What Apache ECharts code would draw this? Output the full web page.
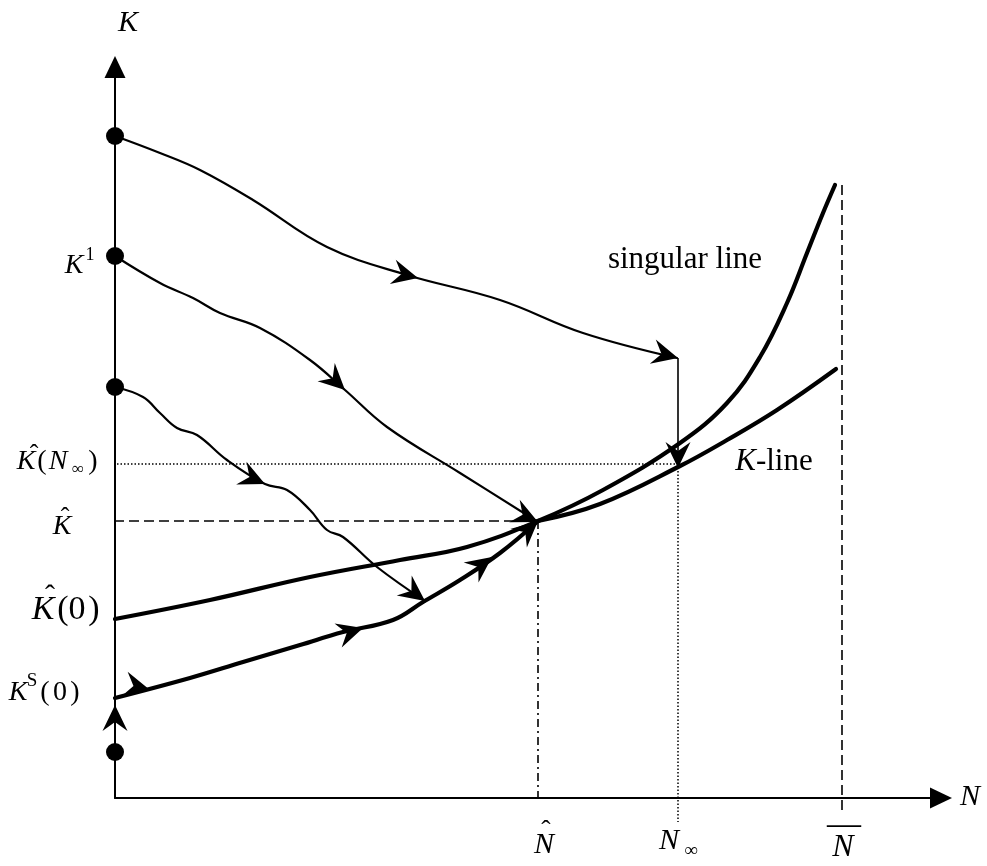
<!DOCTYPE html>
<html><head><meta charset="utf-8">
<script src="https://cdn.jsdelivr.net/npm/echarts/dist/echarts.min.js"></script>
<style>html,body{margin:0;padding:0;background:#fff}#c{width:987px;height:866px}</style>
</head><body><div id="c"></div>
<script>
// Conceptual phase diagram, coordinates in diagram units (N, K)
const singularLine = [[0,179],[95,198],[195,221],[285,238],[352,251],[423,277],[488,308],[565,355],[612,395],[645,441],[672,495],[692,545],[708,585],[720,613]];
const kLine = [[423,277],[485,294],[565,332],[612,358],[662,388],[721,429]];
const saddlePath = [[0,100],[75,120],[128,136],[185,153],[228,166],[278,178],[308,196],[345,218],[385,245],[423,277]];
const pathA = [[0,662],[45,645],[85,628],[138,598],[212,551],[292,523],[385,498],[468,465],[562,440]];
const pathADrop = [[563,440],[563,330]];
const pathB = [[0,542],[45,515],[78,500],[105,485],[145,470],[195,438],[230,408],[272,371],[345,325],[423,276]];
const pathC = [[0,411],[28,401],[45,385],[62,370],[82,363],[112,338],[150,314],[172,308],[195,288],[212,268],[228,261],[262,231],[310,197]];
const startDots = [[0,662],[0,542],[0,411],[0,46]];
// arrow heads: [tipN, tipK, fromN, fromK]
const arrowHeads = [[303,520,230,538],[563,440,519,451],[563,330,563,380],[230,408,190,446],[423,276,393,290],[150,314,128,324],[310,197,282,218],[35,108,10,114],[248,170,208,158],[377,241,354,224],[423,277,405,261],[0,93,0,60]];
const kHatNinf = 334, kHat = 277, nHat = 423, nInf = 563, nBar = 727;
const nMax = 826, kMax = 731;
// labels: [text, N, K, fontSize, italic]
const labels = [
  ['K',13,775,30,1],['N',855,1,30,1],
  ['K',-41,532,28,1],['1',-25,543,18,0],
  ['K',-89,336,28,1],['ˆ',-81,343,26,0],['(',-73,336,28,0],['N',-57,336,28,1],['∞',-37,328,17,0],[')',-22,336,28,0],
  ['K',-53,271,28,1],['ˆ',-50,280,26,0],
  ['K',-72,188,34,1],['ˆ',-65,201,30,0],['(',-52,188,34,0],['0',-38,188,34,0],[')',-21,188,34,0],
  ['K',-97,105,28,1],['S',-83,117,19,0],['(',-70,105,28,0],['0',-55,105,28,0],[')',-40,105,28,0],
  ['N',429,-47,30,1],['ˆ',431,-34,28,0],
  ['N',554,-43,30,1],['∞',576,-53,19,0],
  ['N',728,-50,32,1],['—',729,-27,34,0],
  ['singular line',570,538,31,0],
  ['{i|K}-line',659,336,31,0]
];
const FONT = "'Liberation Serif','Times New Roman',serif";
const chart = echarts.init(document.getElementById('c'));
function lineS(data, width, z){
  return {type:'line', data:data, showSymbol:false, symbol:'none', clip:false, z:z||3, silent:true,
    smooth:0.4, lineStyle:{color:'#000', width:width, cap:'round', join:'round'}};
}
function straight(data, width, type){
  return {type:'line', data:data, showSymbol:false, symbol:'none', clip:false, z:2, silent:true,
    lineStyle:{color:'#000', width:width, type:type, cap:'butt'}};
}
const axisCommon = {type:'value', min:0, axisTick:{show:false}, axisLabel:{show:false}, splitLine:{show:false},
  axisLine:{show:true, onZero:false, symbol:['none','triangle'], symbolSize:[21,22], lineStyle:{color:'#000', width:2}}};
chart.setOption({
  animation:false,
  backgroundColor:'#fff',
  grid:{left:115, top:67, right:46, bottom:68},
  xAxis:Object.assign({}, axisCommon, {max:nMax}),
  yAxis:Object.assign({}, axisCommon, {max:kMax}),
  series:[
    straight([[-5,kHatNinf],[nInf,kHatNinf]],1.5,[1.5,2]),
    straight([[-16,kHat],[nHat,kHat]],1.6,[10,5]),
    straight([[nHat,kHat],[nHat,0]],1.6,[8,4,2,4]),
    straight([[nInf,kHatNinf],[nInf,-24]],1.5,[1.5,2]),
    straight([[nBar,613],[nBar,-14]],1.6,[10,5]),
    lineS(singularLine,4.2),
    lineS(kLine,4.2),
    lineS(saddlePath,4.2),
    lineS(pathA,2.2),
    {type:'line', data:pathADrop, showSymbol:false, symbol:'none', clip:false, z:3, silent:true, lineStyle:{color:'#000', width:1.6}},
    lineS(pathB,2.2),
    lineS(pathC,2.2),
    {type:'scatter', data:startDots, symbolSize:18, itemStyle:{color:'#000', opacity:1}, z:5, clip:false, silent:true},
    {type:'custom', data:arrowHeads, encode:{x:0,y:1}, clip:false, z:6, silent:true,
      renderItem:function(params, api){
        const tip = api.coord([api.value(0), api.value(1)]);
        const prev = api.coord([api.value(2), api.value(3)]);
        let dx = tip[0]-prev[0], dy = tip[1]-prev[1];
        const len = Math.hypot(dx,dy)||1; dx/=len; dy/=len;
        const nx=-dy, ny=dx, L=26, W=12.5, Nn=17;
        return {type:'polygon', shape:{points:[
          [tip[0],tip[1]],
          [tip[0]-L*dx+W*nx, tip[1]-L*dy+W*ny],
          [tip[0]-Nn*dx, tip[1]-Nn*dy],
          [tip[0]-L*dx-W*nx, tip[1]-L*dy-W*ny]]}, style:{fill:'#000'}};
      }},
    {type:'scatter', symbolSize:0, clip:false, z:7, silent:true, itemStyle:{opacity:1},
      data: labels.map(function(l){
        return {value:[l[1],l[2]], label:{show:true, position:'inside', formatter:l[0], color:'#000', opacity:1,
          fontFamily:FONT, fontSize:l[3], fontStyle:l[4]?'italic':'normal', align:'center', verticalAlign:'middle',
          rich:{i:{fontFamily:FONT, fontSize:l[3], fontStyle:'italic', color:'#000'}}}};
      })}
  ]
});
</script></body></html>
